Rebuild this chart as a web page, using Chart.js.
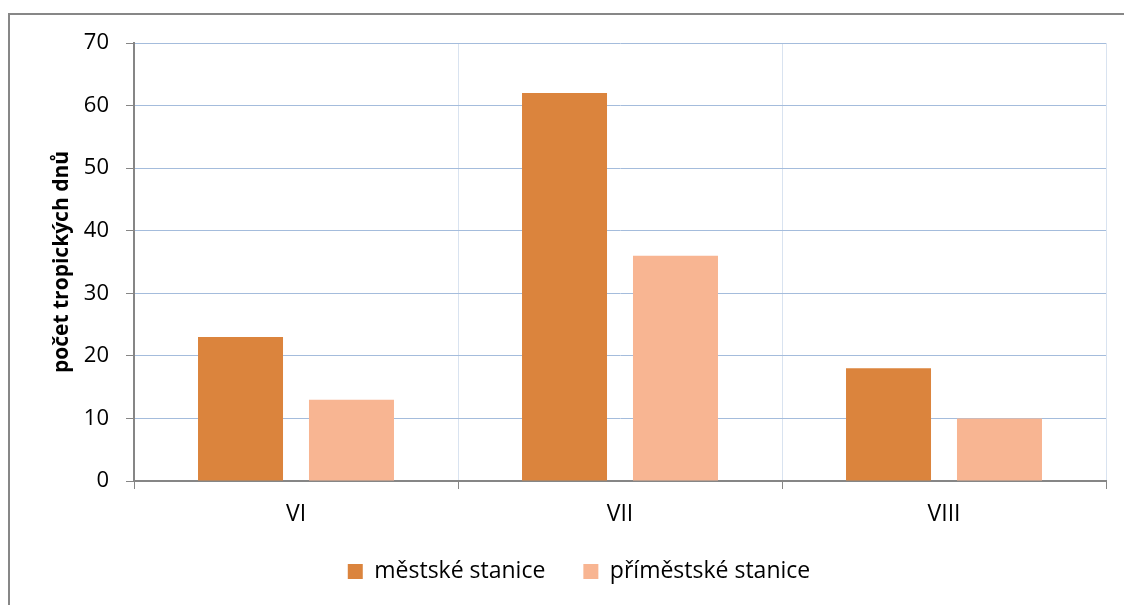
<!DOCTYPE html>
<html lang="cs">
<head>
<meta charset="utf-8">
<title>Počet tropických dnů</title>
<script src="https://cdn.jsdelivr.net/npm/chart.js@4/dist/chart.umd.min.js"></script>
<style>
  html, body { margin: 0; padding: 0; background: #ffffff; overflow: hidden; }
  #wrap { position: relative; width: 1124px; height: 605px; }
  #frame {
    position: absolute; left: 8px; top: 13px; width: 1200px; height: 700px;
    border: 2px solid #878787; box-sizing: border-box; pointer-events: none;
  }
  canvas { position: absolute; left: 0; top: 0; }
</style>
</head>
<body>
<div id="wrap">
  <div id="frame"></div>
  <canvas id="chart" width="1124" height="605"></canvas>
</div>
<script>
// Months (Roman numerals) and number of tropical days per station group
const months = ['VI', 'VII', 'VIII'];
const mestskeStanice = [23, 62, 18];
const primestskeStanice = [13, 36, 10];
const seriesNames = ['městské stanice', 'příměstské stanice'];
const yTitle = 'počet tropických dnů';
const yTickValues = [0, 10, 20, 30, 40, 50, 60, 70];

const FONT = '"Open Sans", Lato, sans-serif';
const AXIS_GRAY = '#868686';

// Centre the legend under the whole canvas rather than the padded layout box
const legendShift = {
  id: 'legendShift',
  afterLayout(chart) {
    const lg = chart.legend;
    if (!lg) return;
    const dx = 26;
    lg.left += dx;
    lg.right += dx;
  }
};

new Chart(document.getElementById('chart'), {
  type: 'bar',
  data: {
    labels: months,
    datasets: [
      {
        label: seriesNames[0],
        data: mestskeStanice,
        backgroundColor: '#db843d',
        borderWidth: 0,
        categoryPercentage: 0.685,
        barPercentage: 0.766
      },
      {
        label: seriesNames[1],
        data: primestskeStanice,
        backgroundColor: '#f8b592',
        borderWidth: 0,
        categoryPercentage: 0.685,
        barPercentage: 0.766
      }
    ]
  },
  plugins: [legendShift],
  options: {
    responsive: false,
    animation: false,
    devicePixelRatio: 1,
    layout: { padding: { top: 43, right: 18, bottom: 12, left: 0 } },
    plugins: {
      tooltip: { enabled: false },
      legend: {
        position: 'bottom',
        labels: {
          color: '#000000',
          font: { family: FONT, size: 23 },
          boxWidth: 15,
          boxHeight: 15,
          padding: 38
        }
      }
    },
    scales: {
      x: {
        type: 'category',
        grid: {
          offset: true,
          color: '#d9e3f0',
          tickColor: AXIS_GRAY,
          tickLength: 8,
          lineWidth: 1
        },
        border: { color: AXIS_GRAY, width: 2 },
        ticks: {
          color: '#000000',
          font: { family: FONT, size: 23 },
          padding: 12
        },
        afterFit(scale) { scale.height = 41; }
      },
      y: {
        min: 0,
        max: 70,
        afterBuildTicks(scale) {
          scale.ticks = yTickValues.map(v => ({ value: v }));
        },
        grid: {
          color: '#a4bcdc',
          tickColor: AXIS_GRAY,
          tickLength: 8,
          lineWidth: 1
        },
        border: { color: AXIS_GRAY, width: 2 },
        ticks: {
          color: '#000000',
          font: { family: FONT, size: 22 },
          padding: 17
        },
        title: {
          display: true,
          text: yTitle,
          color: '#000000',
          font: { family: FONT, size: 21, weight: 'bold' },
          padding: { top: 49, bottom: 0 }
        },
        afterFit(scale) { scale.width = 134; }
      }
    }
  }
});
</script>
</body>
</html>
